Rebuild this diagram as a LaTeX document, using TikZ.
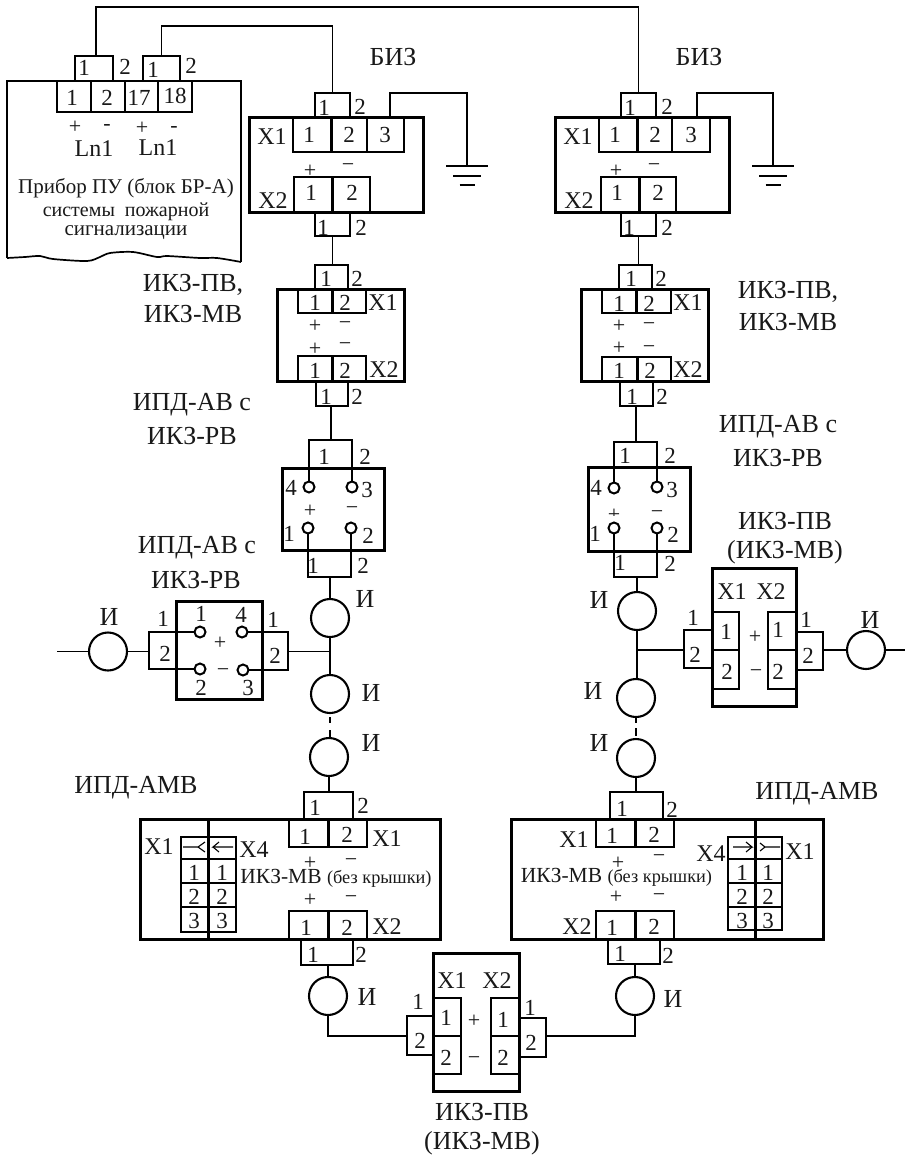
\documentclass[tikz,border=0pt]{standalone}
\usepackage{fontspec}
\setmainfont{Liberation Serif}
\usetikzlibrary{calc}
\newcounter{tc}
\newcommand{\bx}[6][]{%
  \pgfmathsetmacro{\bxw}{#5-#3}\pgfmathsetmacro{\bxh}{#6-#4}%
  \pgfmathsetmacro{\bxx}{(#5+#3)/2}\pgfmathsetmacro{\bxy}{(#6+#4)/2}%
  \node[cell,#1,minimum width=\bxw pt,minimum height=\bxh pt] (#2) at (\bxx,\bxy) {};}
\newcommand{\tx}[4][]{\stepcounter{tc}\node[lab,#1] (t\arabic{tc}) at (#2,#3) {#4};}
\tikzset{
  cell/.style={draw=black,line width=2pt,inner sep=0pt,outer sep=0pt,rectangle},
  frame/.style={line width=3pt,fill=none},
  conn/.style={line width=2pt},
  thinconn/.style={line width=1.5pt},
  wire/.style={draw=black,line width=1.8pt,line join=miter},
  heavy/.style={draw=black,line width=3pt},
  fine/.style={draw=black,line width=1.1pt},
  pin/.style={draw=black,circle,line width=2pt,minimum size=11pt,inner sep=0pt,outer sep=0pt,fill=white},
  det/.style={draw=black,circle,line width=2.1pt,minimum size=38pt,inner sep=0pt,outer sep=0pt},
  lab/.style={inner sep=0pt,outer sep=0pt,text=black!90,font=\fontsize{23}{23}\selectfont},
  big/.style={font=\fontsize{26}{26}\selectfont},
  mid/.style={font=\fontsize{24}{24}\selectfont},
  sgn/.style={font=\fontsize{22}{22}\selectfont},
  gnd/.style={draw=black,line width=2pt},
}
\begin{document}
\begin{tikzpicture}[x=1pt,y=-1pt]
\useasboundingbox (0,0) rectangle (919,1156);
% ---------- instrument
\coordinate (devBL) at (7,258);
\coordinate (devTL) at (7,81);
\coordinate (devTR) at (241,81);
\coordinate (devBR) at (241,262);
\draw[heavy,line width=2.4pt] (devBL) -- (devTL) -- (devTR) -- (devBR);
\draw[black,line width=1.7pt] plot[smooth,tension=0.5] coordinates {(7,258)(25,257)(40,256)(53,259)(87,261)(100,257)(110,253)(133,252)(157,257)(167,256)(200,258)(217,258)(241,262)};
\bx[conn]{pa}{75}{56}{113}{81}
\bx[conn]{pb}{143}{56}{180}{81}
\bx[conn]{d1}{57}{81}{91}{112}
\bx[conn]{d2}{91}{81}{125}{112}
\bx[conn]{d3}{125}{81}{158}{112}
\bx[conn]{d4}{158}{81}{192}{112}
\tx{84}{68}{1}\tx{125}{67}{2}\tx{153}{70}{1}\tx{191}{66}{2}
\tx{72}{98}{1}\tx{107}{98}{2}\tx{139}{98}{17}\tx{175}{96}{18}
\tx[sgn]{75}{127}{+}\tx[sgn]{107}{127}{-}\tx[sgn]{142}{128}{+}\tx[sgn]{174}{129}{-}
\tx[mid]{94}{149}{Ln1}\tx[mid]{158}{148}{Ln1}
\tx[font=\fontsize{21}{21}\selectfont]{126}{188}{Прибор ПУ (блок БР-А)}
\tx[font=\fontsize{20}{20}\selectfont]{126}{212}{системы\ \ пожарной}
\tx[font=\fontsize{21}{21}\selectfont]{126}{233}{сигнализации}
% ---------- BIZ blocks
\bx[frame]{bizL}{249}{117}{423}{212}
\bx[conn]{bLt}{315}{93}{350}{117}
\bx[conn]{bLa}{293}{117}{331}{152}
\bx[conn]{bLb}{331}{117}{367}{152}
\bx[conn]{bLc}{367}{117}{404}{152}
\bx[conn]{bLd}{294}{177}{332}{212}
\bx[conn]{bLe}{332}{177}{370}{212}
\bx[conn]{bLs}{315}{212}{350}{236}
\draw[heavy] (bLa.north east) -- (bLa.south east);
\draw[heavy] (bLd.north east) -- (bLd.south east);
\tx{324}{108}{1}\tx{360}{107}{2}
\tx{309}{135}{1}\tx{349}{135}{2}\tx{385}{135}{3}
\tx[mid]{272}{137}{X1}\tx[sgn]{310}{171}{+}\tx[sgn]{348}{168}{−}
\tx{311}{193}{1}\tx{352}{193}{2}\tx[mid]{273}{201}{X2}
\tx{323}{228}{1}\tx{361}{228}{2}
\tx[big]{393}{57}{БИЗ}
\bx[frame]{bizR}{555}{117}{729}{212}
\bx[conn]{bRt}{621}{93}{656}{117}
\bx[conn]{bRa}{599}{117}{637}{152}
\bx[conn]{bRb}{637}{117}{672}{152}
\bx[conn]{bRc}{672}{117}{710}{152}
\bx[conn]{bRd}{601}{177}{639}{212}
\bx[conn]{bRe}{639}{177}{676}{212}
\bx[conn]{bRs}{621}{212}{656}{236}
\draw[heavy] (bRa.north east) -- (bRa.south east);
\draw[heavy] (bRd.north east) -- (bRd.south east);
\tx{630}{108}{1}\tx{667}{107}{2}
\tx{615}{135}{1}\tx{655}{135}{2}\tx{691}{135}{3}
\tx[mid]{578}{137}{X1}\tx[sgn]{616}{171}{+}\tx[sgn]{654}{168}{−}
\tx{617}{193}{1}\tx{658}{193}{2}\tx[mid]{579}{201}{X2}
\tx{629}{228}{1}\tx{667}{228}{2}
\tx[big]{699}{57}{БИЗ}
% wires to instrument
\coordinate (wa) at (96,7);
\coordinate (wb) at (161.5,26);
\draw[wire] (pa.north -| wa) -- (wa) -| (bRt.north);
\draw[wire] (pb.north) |- (wb) -| (bLt.north);
% ground
\coordinate (gL) at (467,166);
\coordinate (gR) at (773,166);
\coordinate (gLt) at (390,93);
\coordinate (gRt) at (697,93);
\draw[wire] (gLt |- bizL.north) -- (gLt) -| (gL);
\draw[wire] (gRt |- bizR.north) -- (gRt) -| (gR);
\foreach \g in {gL,gR}{
  \draw[gnd] ($(\g)+(-21,0)$) -- ($(\g)+(21,0)$);
  \draw[gnd] ($(\g)+(-14,10)$) -- ($(\g)+(14,10)$);
  \draw[gnd] ($(\g)+(-7.5,19)$) -- ($(\g)+(7.5,19)$);
}
% ---------- IKZ left
\bx[frame]{ikL}{277}{289}{404}{381}
\bx[conn]{iLt}{315}{265}{348}{289}
\bx[conn]{iLa}{298}{289}{332}{313}
\bx[conn]{iLb}{332}{289}{366}{313}
\bx[conn]{iLc}{298}{356}{332}{381}
\bx[conn]{iLd}{332}{356}{366}{381}
\bx[conn]{iLs}{316}{381}{348}{406}
\draw[heavy] (iLa.north east) -- (iLa.south east);
\draw[heavy] (iLc.north east) -- (iLc.south east);
\tx{326}{279}{1}\tx{357}{279}{2}
\tx{315}{303}{1}\tx{345}{303}{2}\tx[mid]{383}{303}{X1}
\tx[sgn]{315}{326}{+}\tx[sgn]{345}{326}{−}\tx[sgn]{315}{349}{+}\tx[sgn]{345}{347}{−}
\tx{315}{371}{1}\tx{345}{371}{2}\tx[mid]{384}{370}{X2}
\tx{326}{397}{1}\tx{357}{397}{2}
\tx[big]{193}{285}{ИКЗ-ПВ,}\tx[big]{193}{314}{ИКЗ-МВ}
% IKZ right
\bx[frame]{ikR}{581}{289}{708}{381}
\bx[conn]{iRt}{619}{265}{652}{289}
\bx[conn]{iRa}{602}{289}{636}{313}
\bx[conn]{iRb}{636}{289}{671}{313}
\bx[conn]{iRc}{602}{357}{637}{381}
\bx[conn]{iRd}{637}{357}{671}{381}
\bx[conn]{iRs}{620}{381}{653}{406}
\draw[heavy] (iRa.north east) -- (iRa.south east);
\draw[heavy] (iRc.north east) -- (iRc.south east);
\tx{631}{279}{1}\tx{661}{279}{2}
\tx{619}{304}{1}\tx{649}{304}{2}\tx[mid]{688}{303}{X1}
\tx[sgn]{619}{326}{+}\tx[sgn]{649}{327}{−}\tx[sgn]{619}{348}{+}\tx[sgn]{649}{350}{−}
\tx{619}{371}{1}\tx{650}{371}{2}\tx[mid]{688}{370}{X2}
\tx{632}{397}{1}\tx{662}{397}{2}
\tx[big]{788}{292}{ИКЗ-ПВ,}\tx[big]{788}{322}{ИКЗ-МВ}
\draw[wire] (bLs.south) -- (bLs.south |- iLt.north);
\draw[wire] (bRs.south) -- (bRs.south |- iRt.north);
% ---------- IPD left
\bx[frame]{ipL}{282}{468}{384}{550}
\node[pin] (pL4) at (309,487) {};
\node[pin] (pL3) at (352,487) {};
\node[pin] (pL1) at (308,528) {};
\node[pin] (pL2) at (351,528) {};
\coordinate (ipLt) at (331,440);
\coordinate (ipLb) at (329,577);
\draw[wire] (iLs.south -| ipLt) -- (ipLt);
\draw[thinconn] (pL4.north) |- (ipLt) -| (pL3.north);
\draw[thinconn] (pL1.south) |- (ipLb) -| (pL2.south);
\tx{324}{457}{1}\tx{365}{457}{2}
\tx{291}{488}{4}\tx{367}{490}{3}
\tx{289}{534}{1}\tx{368}{536}{2}
\tx[sgn]{310}{511}{+}\tx[sgn]{352}{511}{−}
\tx{313}{566}{1}\tx{363}{566}{2}
\tx[big]{192}{405}{ИПД-АВ с}\tx[big]{192}{436}{ИКЗ-РВ}
\tx[big]{197}{548}{ИПД-АВ с}\tx[big]{196}{580}{ИКЗ-РВ}
% IPD right
\bx[frame]{ipR}{588}{467}{690}{551}
\begin{scope}
\clip (600,500) rectangle (670,515.5);
\tx[sgn]{614}{515}{+}\tx[sgn]{657}{515}{−}
\end{scope}
\node[pin] (pR4) at (614,488) {};
\node[pin] (pR3) at (657,487) {};
\node[pin] (pR1) at (614,528) {};
\node[pin] (pR2) at (657,528) {};
\coordinate (ipRt) at (636,442);
\coordinate (ipRb) at (637,577);
\draw[wire] (iRs.south -| ipRt) -- (ipRt);
\draw[thinconn] (pR4.north) |- (ipRt) -| (pR3.north);
\draw[thinconn] (pR1.south) |- (ipRb) -| (pR2.south);
\tx{625}{456}{1}\tx{670}{456}{2}
\tx{596}{488}{4}\tx{672}{490}{3}
\tx{595}{534}{1}\tx{673}{535}{2}
\tx{620}{563}{1}\tx{670}{564}{2}
\tx[big]{778}{427}{ИПД-АВ с}\tx[big]{778}{458}{ИКЗ-РВ}
% ---------- main left line
\node[det] (cL1) at (330,618) {};
\node[det] (cL2) at (330,694) {};
\node[det] (cL3) at (329,757) {};
\coordinate (jL) at (330,651.5);
\draw[wire] (ipLb -| cL1) -- (cL1.north);
\draw[wire] (cL1.south) -- (cL2.north);
\draw[wire,dash pattern=on 0pt off 4pt on 6pt off 7pt on 7pt off 2pt] (cL2.south) -- (cL2.south |- cL3.north);
\tx[big]{365}{599}{И}\tx[big]{371}{693}{И}\tx[big]{371}{743}{И}
% side block left
\bx[frame]{sL}{176}{601}{262}{699}
\node[pin] (qL1) at (200,632) {};
\node[pin] (qL4) at (242,632) {};
\node[pin] (qL2) at (200,669) {};
\node[pin] (qL3) at (243,670) {};
\coordinate (sLl) at (149,651.5);
\coordinate (sLr) at (288,651.5);
\draw[thinconn,line width=1.7pt] (qL1.west) -- (149,632) -- (149,669) -- (qL2.west);
\draw[thinconn,line width=1.7pt] (qL4.east) -- (288,632) -- (288,670) -- (qL3.east);
\draw[wire] (sLr) -- (jL);
\node[det] (cLs) at (108,651.5) {};
\coordinate (stubL) at (57,651.5);
\draw[wire] (stubL) -- (cLs.west);
\draw[wire] (cLs.east) -- (sLl);
\tx{201}{614}{1}\tx{241}{615}{4}\tx{201}{688}{2}\tx{248}{688}{3}
\tx[sgn]{220}{643}{+}\tx[sgn]{223}{673}{−}
\tx{163}{619}{1}\tx{165}{654}{2}\tx{273}{620}{1}\tx{275}{656}{2}
\tx[big]{109}{617}{И}
% ---------- main right line
\node[det] (cR1) at (637,611) {};
\node[det] (cR2) at (636,698) {};
\node[det] (cR3) at (636,758) {};
\coordinate (jR) at (637,650);
\draw[wire] (ipRb) -- (cR1.north);
\draw[wire] (cR1.south) -- (jR) -- (cR2.north -| jR);
\draw[wire,dash pattern=on 0pt off 1pt on 5pt off 5pt on 8pt off 3pt] (cR2.south) -- (cR3.north);
\tx[big]{599}{600}{И}\tx[big]{593}{691}{И}\tx[big]{599}{743}{И}
% side block right
\bx[frame]{sR}{712}{568}{796}{706}
\bx[conn]{sRa}{712}{612}{739}{650}
\bx[conn]{sRb}{712}{650}{739}{689}
\bx[conn]{sRc}{768}{612}{796}{650}
\bx[conn]{sRd}{768}{650}{796}{689}
\bx[conn]{sRl}{684}{630}{712}{668}
\bx[conn]{sRr}{796}{632}{823}{670}
\node[det] (cRs) at (866,650) {};
\coordinate (stubR) at (905,650);
\draw[wire] (jR) -- (jR -| sRl.west);
\draw[wire] (sRr.east |- cRs.west) -- (cRs.west);
\draw[wire] (cRs.east) -- (stubR);
\tx[mid]{732}{592}{X1}\tx[mid]{771}{592}{X2}
\tx{726}{632}{1}\tx{727}{672}{2}\tx{778}{630}{1}\tx{778}{672}{2}
\tx[sgn]{755}{637}{+}\tx[sgn]{756}{674}{−}
\tx{695}{655}{2}\tx{693}{618}{1}\tx{808}{656}{2}\tx{806}{620}{1}
\tx[big]{870}{620}{И}
\tx[big]{785}{521}{ИКЗ-ПВ}\tx[big]{785}{552}{(ИКЗ-МВ)}
% ---------- AMB left
\bx[frame]{aL}{140}{819}{440}{939}
\bx[conn]{aLt}{304}{792}{353}{819}
\bx[conn]{aLa}{289}{819}{328}{847}
\bx[conn]{aLb}{328}{819}{367}{847}
\bx[conn]{aLc}{289}{911}{328}{939}
\bx[conn]{aLd}{328}{911}{367}{939}
\bx[conn]{aLs}{301}{939}{353}{965}
\draw[heavy] (aLa.north east) -- (aLa.south east);
\draw[heavy] (aLc.north east) -- (aLc.south east);
\foreach \n/\ya/\yb in {a/837/859,b/859/883,c/883/907,d/907/932}{
  \bx[conn]{tLl\n}{181}{\ya}{208}{\yb}
  \bx[conn]{tLr\n}{208}{\ya}{236}{\yb}
}
\coordinate (dLt) at (208,819);\coordinate (dLb) at (208,939);
\draw[heavy] (dLt) -- (dLb);
\draw[fine] (183,847) -- (198,847) -- (205,842);
\draw[fine] (198,847) -- (205,852);
\draw[fine] (233,847) -- (213,847) -- (219,842);
\draw[fine] (213,847) -- (219,852);
\tx{194}{873}{1}\tx{222}{873}{1}\tx{194}{897}{2}\tx{222}{897}{2}\tx{194}{921}{3}\tx{222}{921}{3}
\tx[mid]{159}{847}{X1}\tx[mid]{254}{850}{X4}
\tx{315}{808}{1}\tx{363}{806}{2}
\tx{305}{837}{1}\tx{347}{835}{2}\tx[mid]{387}{839}{X1}
\tx[sgn]{310}{863}{+}\tx[sgn]{351}{863}{−}
\tx{336}{878}{\fontsize{21.5}{21.5}\selectfont ИКЗ-МВ \fontsize{18.3}{18.3}\selectfont (без крышки)}
\tx[sgn]{310}{900}{+}\tx[sgn]{351}{900}{−}
\tx{306}{928}{1}\tx{347}{928}{2}\tx[mid]{387}{927}{X2}
\tx{313}{955}{1}\tx{361}{955}{2}
\tx[big]{136}{788}{ИПД-АМВ}
% AMB right
\bx[frame]{aR}{511}{819}{823}{939}
\bx[conn]{aRt}{610}{792}{663}{819}
\bx[conn]{aRa}{596}{819}{635}{847}
\bx[conn]{aRb}{635}{819}{674}{847}
\bx[conn]{aRc}{596}{911}{635}{939}
\bx[conn]{aRd}{635}{911}{674}{939}
\bx[conn]{aRs}{608}{939}{660}{964}
\draw[heavy] (aRa.north east) -- (aRa.south east);
\draw[heavy] (aRc.north east) -- (aRc.south east);
\foreach \n/\ya/\yb in {a/837/859,b/859/883,c/883/907,d/907/930}{
  \bx[conn]{tRl\n}{728}{\ya}{755}{\yb}
  \bx[conn]{tRr\n}{755}{\ya}{782}{\yb}
}
\coordinate (dRt) at (755,819);\coordinate (dRb) at (755,939);
\draw[heavy] (dRt) -- (dRb);
\draw[fine] (733,847) -- (752,847) -- (746,842);
\draw[fine] (752,847) -- (746,852);
\draw[fine] (780,847) -- (765,847) -- (760,843);
\draw[fine] (765,847) -- (760,851);
\tx{742}{873}{1}\tx{768}{873}{1}\tx{742}{897}{2}\tx{768}{897}{2}\tx{742}{921}{3}\tx{768}{921}{3}
\tx[mid]{711}{854}{X4}\tx[mid]{800}{852}{X1}
\tx{622}{809}{1}\tx{672}{810}{2}
\tx{612}{836}{1}\tx{654}{835}{2}\tx[mid]{574}{840}{X1}
\tx[sgn]{618}{863}{+}\tx[sgn]{659}{859}{−}
\tx{616.5}{877}{\fontsize{21.5}{21.5}\selectfont ИКЗ-МВ \fontsize{18.3}{18.3}\selectfont (без крышки)}
\tx[sgn]{616}{897}{+}\tx[sgn]{659}{898}{−}
\tx{612}{928}{1}\tx{654}{927}{2}\tx[mid]{577}{927}{X2}
\tx{620}{954}{1}\tx{668}{956}{2}
\tx[big]{817}{794}{ИПД-АМВ}
\draw[wire] (cL3.south) -- (aLt.north -| cL3);
\draw[wire] (cR3.south) -- (aRt.north -| cR3);
% ---------- bottom detectors and block
\node[det] (cB1) at (328,996) {};
\node[det] (cB2) at (635,996) {};
\tx[big]{367}{997}{И}\tx[big]{673}{999}{И}
\bx[frame]{bB}{433}{953}{519}{1091}
\bx[conn]{bBa}{433}{998}{461}{1036}
\bx[conn]{bBb}{433}{1036}{461}{1074}
\bx[conn]{bBc}{491}{998}{519}{1036}
\bx[conn]{bBd}{491}{1036}{519}{1074}
\bx[conn]{bBl}{407}{1016}{433}{1055}
\bx[conn]{bBr}{519}{1018}{546}{1057}
\coordinate (jBl) at (328,1036);
\coordinate (jBr) at (635,1036);
\draw[wire] (aLs.south -| cB1) -- (cB1.north);
\draw[wire] (aRs.south -| cB2) -- (cB2.north);
\draw[wire] (cB1.south) -- (jBl) -- (jBl -| bBl.west);
\draw[wire] (cB2.south) -- (jBr) -- (jBr -| bBr.east);
\tx[mid]{452}{981}{X1}\tx[mid]{497}{981}{X2}
\tx{446}{1018}{1}\tx{446}{1058}{2}\tx{503}{1020}{1}\tx{503}{1058}{2}
\tx[sgn]{474}{1021}{+}\tx[sgn]{474}{1061}{−}
\tx{420}{1041}{2}\tx{418}{1002}{1}\tx{531}{1043}{2}\tx{530}{1008}{1}
\tx[big]{482}{1112}{ИКЗ-ПВ}\tx[big]{482}{1143}{(ИКЗ-МВ)}
\end{tikzpicture}
\end{document}
